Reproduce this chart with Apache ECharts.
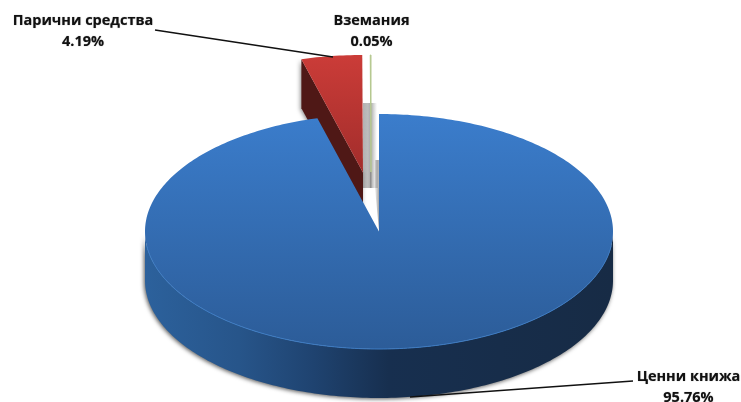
<!DOCTYPE html>
<html><head><meta charset="utf-8">
<style>html,body{margin:0;padding:0;background:#fff}#c{width:741px;height:402px}</style>
<script src="https://cdn.jsdelivr.net/npm/echarts@6/dist/echarts.min.js"></script>
</head><body><div id="c"></div>
<script>
const categories = ['Ценни книжа', 'Парични средства', 'Вземания'];
const shares = [95.76, 4.19, 0.05];
const percentLabels = ['95.76%', '4.19%', '0.05%'];

const CX = 379, CY = 231.5, RX = 234, RY = 117.5, DEPTH = 49;
const OFFSET = [[0, 0], [-16, -59], [-8, -59]];
const LABEL_POS = [[688.5, 387.5], [83, 31.5], [371.5, 31.5]];
const G = echarts.graphic;
const V = (a, b) => new G.LinearGradient(0, 0, 0, 1, [{offset: 0, color: a}, {offset: 1, color: b}]);
const H = stops => new G.LinearGradient(0, 0, 1, 0, stops.map(s => ({offset: s[0], color: s[1]})));

function pt(deg, ox, oy, dz) {
  const r = deg * Math.PI / 180;
  return [CX + ox + RX * Math.sin(r), CY + oy - RY * Math.cos(r) + (dz || 0)];
}
function arc(a0, a1, ox, oy, dz) {
  const pts = [], n = Math.max(1, Math.ceil(Math.abs(a1 - a0)));
  for (let i = 0; i <= n; i++) pts.push(pt(a0 + (a1 - a0) * i / n, ox, oy, dz));
  return pts;
}
function poly(points, style, z2) {
  return {type: 'polygon', shape: {points}, style, z2, silent: true};
}
function rect(x, y, width, height, fill, z2) {
  return {type: 'rect', shape: {x, y, width, height}, style: {fill}, z2, silent: true};
}
function line(p, stroke, lineWidth, z2) {
  return {type: 'polyline', shape: {points: p}, style: {stroke, lineWidth, fill: null}, z2, silent: true};
}
function label(i) {
  return {type: 'text', z2: 30, silent: true,
    style: {x: LABEL_POS[i][0], y: LABEL_POS[i][1], text: categories[i] + '\n' + percentLabels[i],
      font: 'bold 14.5px "Open Sans", sans-serif', fill: '#111', align: 'center', verticalAlign: 'middle',
      lineHeight: 20.5, textShadowBlur: 1, textShadowColor: 'rgba(0,0,0,0.45)'}};
}

function renderItem(params, api) {
  const i = params.dataIndex;
  const total = shares.reduce((s, v) => s + v, 0);
  let start = 0;
  for (let k = 0; k < i; k++) start += shares[k] / total * 360;
  const end = start + api.value(1) / total * 360;
  const [ox, oy] = OFFSET[i];
  const apex = [CX + ox, CY + oy];
  const children = [];

  if (i === 0) {
    const lower = arc(90, 270, ox, oy, 0);
    const lowerDown = arc(270, 90, ox, oy, DEPTH);
    const sideFill = H([[0, '#2c619c'], [0.2, '#27558a'], [0.36, '#1f4370'], [0.52, '#172f4f'], [1, '#172b45']]);
    children.push(poly(lower.concat(lowerDown), {fill: sideFill, shadowBlur: 4, shadowColor: 'rgba(0,0,0,0.65)', shadowOffsetX: -1, shadowOffsetY: 1}, 10));
    children.push(poly([apex].concat(arc(start, end, ox, oy, 0)), {fill: V('#3b7dcc', '#2c5c98')}, 12));
    children.push(line(arc(97, 263, ox, oy, 0), '#3d7cc4', 1, 13));
    children.push(line([[410, 397], [633, 381]], '#111', 1.4, 20));
  } else if (i === 1) {
    const left = pt(start, ox, oy, 0);
    children.push(poly([left, apex, [apex[0], apex[1] + DEPTH], [left[0], left[1] + DEPTH]],
      {fill: '#4f1816', shadowBlur: 4, shadowColor: 'rgba(0,0,0,0.45)', shadowOffsetX: -1, shadowOffsetY: 1}, 5));
    children.push(poly([apex].concat(arc(start, end, ox, oy, 0)), {fill: V('#cb3c38', '#a22d2b')}, 6));
    children.push(line([[155, 30], [333, 57]], '#111', 1.4, 20));
  } else {
    // blurred cast-shadow band around the sliver
    children.push(rect(363, 103, 14, 85, H([[0, '#b2b2b2'], [0.35, '#bdbdbd'], [0.55, '#a9a9a9'], [0.8, '#dcdcdc'], [1, '#ffffff']]), 1));
    children.push(rect(375, 160, 4, 28, H([[0, '#d0d0d0'], [0.5, '#a8a8a8'], [1, '#b8b8b8']]), 1));
    children.push(poly([[375, 188], [379, 188], [379, 231]], {fill: H([[0, '#f2f2f2'], [1, '#a5a5a5']])}, 1));
    children.push(poly([apex].concat(arc(start, end, ox, oy, 0)), {fill: '#b5c88f', stroke: '#b5c88f', lineWidth: 1}, 3));
    children.push(rect(370, 172, 1.4, 16, '#8f8f8f', 3));
  }
  children.push(label(i));
  return {type: 'group', children};
}

const chart = echarts.init(document.getElementById('c'), null, {renderer: 'canvas'});
chart.setOption({
  animation: false,
  backgroundColor: '#fff',
  series: [{
    type: 'custom',
    coordinateSystem: 'none',
    renderItem,
    data: categories.map((c, i) => [c, shares[i]]),
    encode: {value: 1, itemName: 0}
  }]
});
</script></body></html>
